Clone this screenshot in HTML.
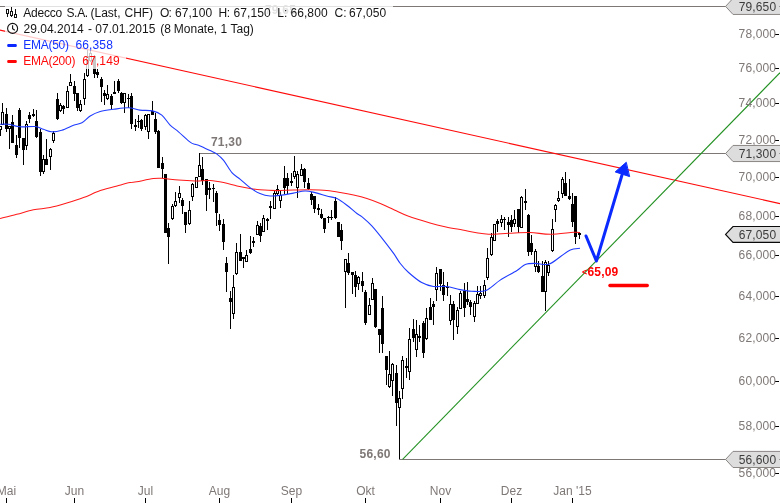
<!DOCTYPE html>
<html lang="de"><head><meta charset="utf-8"><title>Adecco S.A. Chart</title>
<style>
html,body{margin:0;padding:0;background:#fff}
body{width:780px;height:503px;position:relative;overflow:hidden;font-family:"Liberation Sans",sans-serif;font-size:12px}
svg{position:absolute;left:0;top:0;display:block}
svg text{font-family:"Liberation Sans",sans-serif;font-size:12px}
.ax{fill:#7e7876}
.bd{fill:#3c3c3c}
.lv{fill:#7d7775;font-weight:bold;letter-spacing:0.2px}
</style></head><body>
<svg width="780" height="503" viewBox="0 0 780 503">
<rect width="780" height="503" fill="#fff"/>
<g fill="#7d7775" shape-rendering="crispEdges">
<rect x="0" y="6" width="727" height="1"/>
<rect x="199" y="153" width="528" height="1"/>
<rect x="399" y="459" width="328" height="1"/>
</g>
<text class="lv" x="265" y="13.5">79,65</text>
<text class="lv" x="211" y="146.3">71,30</text>
<text class="lv" x="359.6" y="458">56,60</text>
<line x1="0" y1="30.1" x2="780" y2="203.6" stroke="#ff0a0a" stroke-width="1.1"/>
<line x1="402.6" y1="459.3" x2="780" y2="72.7" stroke="#229122" stroke-width="1.1"/>
<g shape-rendering="crispEdges">
<path fill="#000" d="M0 126h1v10h-1zM2 103h1v22h-1zM6 108h1v24h-1zM9 126h1v23h-1zM12 115h1v28h-1zM16 135h1v23h-1zM19 108h1v40h-1zM23 138h1v27h-1zM26 121h1v29h-1zM29 112h1v11h-1zM33 109h1v8h-1zM36 110h1v28h-1zM40 129h1v47h-1zM43 155h1v19h-1zM46 139h1v26h-1zM50 148h1v22h-1zM53 131h1v12h-1zM57 93h1v27h-1zM60 103h1v9h-1zM63 105h1v9h-1zM67 86h1v22h-1zM70 74h1v12h-1zM74 81h1v20h-1zM77 93h1v18h-1zM80 100h1v12h-1zM84 73h1v32h-1zM87 50h1v27h-1zM90 49h1v13h-1zM94 55h1v23h-1zM97 69h1v9h-1zM101 77h1v25h-1zM104 90h1v15h-1zM107 85h1v15h-1zM111 94h1v15h-1zM114 81h1v12h-1zM118 79h1v14h-1zM121 92h1v12h-1zM124 93h1v20h-1zM128 94h1v14h-1zM131 93h1v36h-1zM135 119h1v12h-1zM138 115h1v13h-1zM141 119h1v12h-1zM145 114h1v16h-1zM148 114h1v25h-1zM152 101h1v14h-1zM155 113h1v21h-1zM158 130h1v38h-1zM162 157h1v21h-1zM165 174h1v59h-1zM168 223h1v41h-1zM172 204h1v16h-1zM175 192h1v15h-1zM179 186h1v17h-1zM182 198h1v16h-1zM185 212h1v21h-1zM189 201h1v24h-1zM192 183h1v18h-1zM196 177h1v10h-1zM199 153h1v24h-1zM202 157h1v28h-1zM206 179h1v32h-1zM209 182h1v17h-1zM213 184h1v18h-1zM216 191h1v35h-1zM219 214h1v17h-1zM223 219h1v31h-1zM226 257h1v35h-1zM230 291h1v38h-1zM233 275h1v44h-1zM236 243h1v32h-1zM240 234h1v27h-1zM243 257h1v11h-1zM246 250h1v12h-1zM250 236h1v18h-1zM253 237h1v10h-1zM257 221h1v14h-1zM260 223h1v19h-1zM263 215h1v17h-1zM267 218h1v12h-1zM270 201h1v18h-1zM274 191h1v18h-1zM277 185h1v11h-1zM280 191h1v17h-1zM284 166h1v28h-1zM287 173h1v21h-1zM291 173h1v13h-1zM294 156h1v23h-1zM297 171h1v27h-1zM301 164h1v12h-1zM304 168h1v20h-1zM308 178h1v12h-1zM311 192h1v13h-1zM314 196h1v17h-1zM318 204h1v11h-1zM321 209h1v10h-1zM324 218h1v15h-1zM328 216h1v7h-1zM331 210h1v10h-1zM335 197h1v22h-1zM338 222h1v15h-1zM341 224h1v26h-1zM345 259h1v49h-1zM348 253h1v22h-1zM352 272h1v22h-1zM355 271h1v26h-1zM358 276h1v14h-1zM362 272h1v20h-1zM365 290h1v35h-1zM369 298h1v17h-1zM372 278h1v22h-1zM375 289h1v39h-1zM379 329h1v24h-1zM382 296h1v57h-1zM386 356h1v29h-1zM389 351h1v37h-1zM392 363h1v33h-1zM396 365h1v61h-1zM399 391h1v68h-1zM402 356h1v43h-1zM406 358h1v20h-1zM409 328h1v52h-1zM413 319h1v23h-1zM416 320h1v37h-1zM419 325h1v17h-1zM423 321h1v37h-1zM426 308h1v32h-1zM430 298h1v22h-1zM433 301h1v24h-1zM436 267h1v34h-1zM440 269h1v22h-1zM443 272h1v29h-1zM447 282h1v14h-1zM450 295h1v30h-1zM453 301h1v39h-1zM457 307h1v27h-1zM460 291h1v18h-1zM464 283h1v34h-1zM467 282h1v23h-1zM470 300h1v15h-1zM474 301h1v21h-1zM477 286h1v18h-1zM480 286h1v13h-1zM484 280h1v18h-1zM487 248h1v32h-1zM491 233h1v23h-1zM494 224h1v17h-1zM497 219h1v13h-1zM501 215h1v12h-1zM504 217h1v13h-1zM508 217h1v20h-1zM511 215h1v17h-1zM514 210h1v17h-1zM518 209h1v24h-1zM521 196h1v32h-1zM525 189h1v21h-1zM528 214h1v42h-1zM531 235h1v20h-1zM535 249h1v23h-1zM538 261h1v12h-1zM542 261h1v31h-1zM545 260h1v51h-1zM548 261h1v15h-1zM552 219h1v33h-1zM555 204h1v18h-1zM558 191h1v11h-1zM562 177h1v21h-1zM565 172h1v24h-1zM569 179h1v21h-1zM572 193h1v34h-1zM575 196h1v48h-1zM579 232h1v7h-1z"/>
<path fill="#000" d="M-1 126h3v4h-3zM1 112h3v13h-3zM5 114h3v15h-3zM8 126h3v3h-3zM11 122h3v21h-3zM15 145h3v10h-3zM18 110h3v28h-3zM22 138h3v12h-3zM25 124h3v22h-3zM28 115h3v4h-3zM32 114h3v2h-3zM35 121h3v16h-3zM39 132h3v40h-3zM42 159h3v13h-3zM45 159h3v6h-3zM49 149h3v8h-3zM52 133h3v8h-3zM56 99h3v20h-3zM59 105h3v6h-3zM62 106h3v3h-3zM66 91h3v17h-3zM69 82h3v4h-3zM73 86h3v8h-3zM76 93h3v15h-3zM79 104h3v7h-3zM83 79h3v20h-3zM86 56h3v20h-3zM89 53h3v8h-3zM93 56h3v18h-3zM96 72h3v3h-3zM100 79h3v8h-3zM103 93h3v3h-3zM106 94h3v5h-3zM110 96h3v9h-3zM113 92h3v2h-3zM117 81h3v10h-3zM120 93h3v10h-3zM123 93h3v10h-3zM127 98h3v1h-3zM130 96h3v28h-3zM134 125h3v2h-3zM137 121h3v1h-3zM140 120h3v9h-3zM144 115h3v12h-3zM147 114h3v18h-3zM151 111h3v4h-3zM154 119h3v13h-3zM157 131h3v37h-3zM161 163h3v6h-3zM164 174h3v59h-3zM167 228h3v9h-3zM171 206h3v13h-3zM174 201h3v5h-3zM178 193h3v5h-3zM181 200h3v6h-3zM184 212h3v13h-3zM188 210h3v14h-3zM191 184h3v13h-3zM195 177h3v11h-3zM198 165h3v12h-3zM201 169h3v12h-3zM205 179h3v16h-3zM208 188h3v2h-3zM212 188h3v1h-3zM215 193h3v20h-3zM218 220h3v5h-3zM222 224h3v18h-3zM225 263h3v9h-3zM229 298h3v4h-3zM232 287h3v27h-3zM235 252h3v22h-3zM239 252h3v9h-3zM242 257h3v2h-3zM245 255h3v7h-3zM249 249h3v4h-3zM252 241h3v2h-3zM256 225h3v10h-3zM259 226h3v10h-3zM262 218h3v14h-3zM266 219h3v2h-3zM269 206h3v2h-3zM273 193h3v16h-3zM276 189h3v5h-3zM279 195h3v6h-3zM283 178h3v10h-3zM286 178h3v8h-3zM290 181h3v2h-3zM293 171h3v6h-3zM296 174h3v14h-3zM300 169h3v7h-3zM303 169h3v13h-3zM307 183h3v6h-3zM310 194h3v6h-3zM313 196h3v13h-3zM317 208h3v2h-3zM320 214h3v4h-3zM323 218h3v11h-3zM327 217h3v1h-3zM330 217h3v1h-3zM334 201h3v17h-3zM337 222h3v15h-3zM340 230h3v11h-3zM344 259h3v13h-3zM347 263h3v10h-3zM351 272h3v3h-3zM354 275h3v12h-3zM357 277h3v7h-3zM361 281h3v5h-3zM364 292h3v31h-3zM368 305h3v10h-3zM371 283h3v17h-3zM374 289h3v38h-3zM378 329h3v6h-3zM381 308h3v36h-3zM385 356h3v14h-3zM388 374h3v13h-3zM391 364h3v17h-3zM395 373h3v30h-3zM398 398h3v10h-3zM401 360h3v29h-3zM405 366h3v2h-3zM408 339h3v33h-3zM412 329h3v9h-3zM415 334h3v16h-3zM418 336h3v2h-3zM422 323h3v30h-3zM425 318h3v21h-3zM429 307h3v13h-3zM432 304h3v3h-3zM435 273h3v17h-3zM439 269h3v15h-3zM442 285h3v10h-3zM446 287h3v1h-3zM449 304h3v17h-3zM452 304h3v16h-3zM456 310h3v17h-3zM459 293h3v16h-3zM463 291h3v17h-3zM466 299h3v3h-3zM469 302h3v5h-3zM473 303h3v14h-3zM476 294h3v10h-3zM479 293h3v3h-3zM483 285h3v11h-3zM486 258h3v20h-3zM490 237h3v18h-3zM493 224h3v17h-3zM496 221h3v3h-3zM500 219h3v4h-3zM503 219h3v1h-3zM507 222h3v3h-3zM510 220h3v7h-3zM513 219h3v5h-3zM517 209h3v18h-3zM520 197h3v31h-3zM524 201h3v2h-3zM527 215h3v37h-3zM530 243h3v9h-3zM534 251h3v16h-3zM537 266h3v6h-3zM541 276h3v16h-3zM544 262h3v30h-3zM547 265h3v8h-3zM551 229h3v22h-3zM554 205h3v5h-3zM557 198h3v3h-3zM561 179h3v15h-3zM564 183h3v13h-3zM568 196h3v3h-3zM571 204h3v18h-3zM574 196h3v41h-3zM578 233h3v2h-3z"/>
<path fill="#fff" d="M0 127h1v2h-1zM2 113h1v11h-1zM9 127h1v1h-1zM26 125h1v20h-1zM43 160h1v11h-1zM50 150h1v6h-1zM53 134h1v6h-1zM60 106h1v4h-1zM67 92h1v15h-1zM70 83h1v2h-1zM80 105h1v5h-1zM84 80h1v18h-1zM87 57h1v18h-1zM90 54h1v6h-1zM107 95h1v3h-1zM124 94h1v8h-1zM145 116h1v10h-1zM148 115h1v16h-1zM172 207h1v11h-1zM175 202h1v3h-1zM179 194h1v3h-1zM189 211h1v12h-1zM192 185h1v11h-1zM196 178h1v9h-1zM199 166h1v10h-1zM233 288h1v25h-1zM236 253h1v20h-1zM246 256h1v5h-1zM257 226h1v8h-1zM263 219h1v12h-1zM274 194h1v14h-1zM277 190h1v3h-1zM280 196h1v4h-1zM294 172h1v4h-1zM297 175h1v12h-1zM301 170h1v5h-1zM345 260h1v11h-1zM358 278h1v5h-1zM369 306h1v8h-1zM372 284h1v15h-1zM389 375h1v11h-1zM392 365h1v15h-1zM399 399h1v8h-1zM402 361h1v27h-1zM409 340h1v31h-1zM416 335h1v14h-1zM426 319h1v19h-1zM436 274h1v15h-1zM450 305h1v15h-1zM457 311h1v15h-1zM460 294h1v14h-1zM474 304h1v12h-1zM477 295h1v8h-1zM480 294h1v1h-1zM484 286h1v9h-1zM487 259h1v18h-1zM491 238h1v16h-1zM494 225h1v15h-1zM501 220h1v2h-1zM514 220h1v3h-1zM521 198h1v29h-1zM535 252h1v14h-1zM545 263h1v28h-1zM548 266h1v6h-1zM552 230h1v20h-1zM555 206h1v3h-1zM558 199h1v1h-1zM562 180h1v13h-1z"/>
</g>
<path d="M0 218.5C2.8 217.8 11.1 215.8 16.7 214.3C22.3 212.9 27.8 210.9 33.4 209.8C39.0 208.7 44.5 208.7 50.1 207.6C55.7 206.5 61.2 204.8 66.8 203.1C72.4 201.4 77.9 199.7 83.5 197.6C89.1 195.5 94.7 192.5 100.3 190.6C105.9 188.7 112.0 187.2 117 185.9C122.0 184.6 126.7 183.3 130 182.6C133.3 181.9 132.8 182.5 136.7 181.8C140.6 181.1 148.9 179.2 153.4 178.6C157.9 178.0 159.2 178.2 163.4 178.4C167.6 178.7 173.2 179.7 178.5 180.1C183.8 180.5 189.9 180.8 195.2 180.9C200.5 181.0 205.5 180.3 210.2 180.6C214.9 180.9 219.1 181.7 223.6 182.6C228.1 183.5 232.6 184.9 237 185.9C241.4 186.9 246.2 187.8 250 188.4C253.8 189.1 255.6 189.4 260 189.8C264.4 190.2 271.1 190.6 276.7 190.6C282.3 190.6 287.8 190.2 293.4 190.1C299.0 190.0 304.5 189.7 310.1 189.8C315.7 189.9 321.8 190.1 326.8 190.6C331.8 191.1 335.7 191.8 340.2 192.6C344.7 193.3 349.2 194.1 353.6 195.1C358.1 196.1 362.4 197.1 366.9 198.5C371.3 199.9 375.7 201.6 380.3 203.5C384.9 205.4 389.7 207.9 394.4 210C399.1 212.1 402.7 214.1 408.6 216.3C414.5 218.5 423.8 221.2 430 223C436.2 224.8 440.6 225.8 446 227C451.4 228.2 457.7 229.1 462.6 230C467.5 230.9 470.9 231.8 475.2 232.5C479.5 233.2 483.0 234.1 488.6 234.2C494.2 234.3 501.7 233.6 508.6 233.3C515.5 233.0 523.1 232.3 530 232.5C536.9 232.7 542.9 234.3 550.2 234.3C557.5 234.3 568.6 232.6 573.6 232.3C578.6 232.0 578.9 232.5 580 232.5" fill="none" stroke="#ff1a1a" stroke-width="1.05"/>
<path d="M0 124.3C1.4 124.3 5.1 123.9 8.4 124.3C11.7 124.7 15.6 126.4 20 126.8C24.4 127.2 31.2 126.1 35.1 126.5C39.0 126.9 40.6 128.4 43.4 129.3C46.2 130.2 48.7 131.7 51.8 131.8C54.9 132.0 58.2 131.3 61.8 130.2C65.4 129.1 70.2 126.5 73.5 125.2C76.8 124.0 79.1 124.2 81.9 122.7C84.7 121.2 87.2 117.9 90.2 116C93.2 114.1 96.3 112.6 100.2 111.5C104.1 110.4 108.9 109.9 113.6 109.3C118.3 108.7 124.0 107.7 128.4 107.8C132.8 107.9 136.0 109.6 140 110.1C144.0 110.6 149.0 110.1 152.6 110.9C156.2 111.7 158.9 112.7 161.8 115.1C164.7 117.5 167.3 122.3 170.1 125.1C172.9 127.9 175.2 129.0 178.5 131.8C181.8 134.6 187.4 140.0 190.2 142.1C192.9 144.2 193.3 143.7 195 144.3C196.7 144.9 197.7 144.9 200.2 145.9C202.7 146.9 207.5 149.3 210.2 150.6C212.9 151.9 214.1 152.0 216.3 153.6C218.5 155.2 221.0 157.2 223.6 160.4C226.2 163.6 229.1 169.4 231.9 172.6C234.7 175.8 237.3 176.8 240.3 179.3C243.3 181.8 246.7 185.2 250 187.6C253.3 190.0 256.7 192.1 260 193.5C263.3 194.9 266.4 195.7 270 196C273.6 196.3 277.8 195.6 281.7 195.1C285.6 194.6 289.5 193.8 293.4 193.1C297.3 192.4 301.5 191.1 305.1 191C308.7 190.9 311.5 191.8 315.1 192.6C318.7 193.4 323.2 195.0 326.8 196C330.4 197.0 333.5 197.0 336.9 198.5C340.2 200.0 343.6 202.7 346.9 205.2C350.2 207.7 354.4 211.6 356.9 213.5C359.4 215.4 359.3 214.6 361.8 216.7C364.3 218.8 368.2 222.0 371.8 225.9C375.4 229.8 379.9 235.5 383.5 240.1C387.1 244.7 390.8 249.5 393.6 253.4C396.4 257.3 397.8 260.3 400.3 263.5C402.8 266.7 405.0 269.3 408.6 272.5C412.2 275.7 417.6 280.3 421.7 282.6C425.8 284.9 429.2 285.9 433.4 286.5C437.6 287.1 442.6 286.0 446.8 286.5C451.0 287.0 454.4 288.5 458.5 289.3C462.6 290.1 467.1 291.0 471.7 291.2C476.3 291.4 481.2 292.2 486 290.4C490.8 288.5 495.0 283.4 500.2 280.1C505.4 276.8 512.8 273.1 517 270.5C521.2 267.9 522.3 265.7 525.3 264.5C528.3 263.3 531.1 263.4 535 263.4C538.9 263.3 544.4 265.3 548.6 264.2C552.8 263.1 556.7 259.1 560.3 256.7C563.9 254.3 567.0 251.4 570.3 250C573.6 248.6 578.4 248.6 580 248.3" fill="none" stroke="#1f3cff" stroke-width="1.1"/>
<g stroke="#0a2aff" fill="#0a2aff" stroke-linejoin="round" stroke-linecap="round">
<polyline points="586,236 596.4,261 622,175" fill="none" stroke-width="3"/>
<polygon points="626,162.5 615.2,171.9 629.3,176.5" stroke-width="1"/>
</g>
<line x1="609.9" y1="285.5" x2="647.3" y2="285.5" stroke="#ff0000" stroke-width="3.3" stroke-linecap="round"/>
<text x="582" y="276" fill="#ff0000" font-weight="bold" letter-spacing="0.2"><tspan font-size="9px" dy="-1">&lt;</tspan><tspan dy="1">65,09</tspan></text>
<g fill="#000" shape-rendering="crispEdges">
<rect x="775" y="34" width="4" height="1"/>
<rect x="775" y="68" width="4" height="1"/>
<rect x="775" y="103" width="4" height="1"/>
<rect x="775" y="140" width="4" height="1"/>
<rect x="775" y="177" width="4" height="1"/>
<rect x="775" y="216" width="4" height="1"/>
<rect x="775" y="255" width="4" height="1"/>
<rect x="775" y="296" width="4" height="1"/>
<rect x="775" y="338" width="4" height="1"/>
<rect x="775" y="381" width="4" height="1"/>
<rect x="775" y="426" width="4" height="1"/>
<rect x="775" y="473" width="4" height="1"/>
<rect x="6" y="498" width="1" height="5"/>
<rect x="74" y="498" width="1" height="5"/>
<rect x="145" y="498" width="1" height="5"/>
<rect x="219" y="498" width="1" height="5"/>
<rect x="291" y="498" width="1" height="5"/>
<rect x="365" y="498" width="1" height="5"/>
<rect x="440" y="498" width="1" height="5"/>
<rect x="511" y="498" width="1" height="5"/>
<rect x="572" y="498" width="1" height="5"/>
</g>
<g class="ax" text-anchor="end">
<text x="776.2" y="37.8" letter-spacing="0.15">78,000</text>
<text x="776.2" y="71.8" letter-spacing="0.15">76,000</text>
<text x="776.2" y="106.8" letter-spacing="0.15">74,000</text>
<text x="776.2" y="143.8" letter-spacing="0.15">72,000</text>
<text x="776.2" y="180.8" letter-spacing="0.15">70,000</text>
<text x="776.2" y="219.8" letter-spacing="0.15">68,000</text>
<text x="776.2" y="258.8" letter-spacing="0.15">66,000</text>
<text x="776.2" y="299.8" letter-spacing="0.15">64,000</text>
<text x="776.2" y="341.8" letter-spacing="0.15">62,000</text>
<text x="776.2" y="384.8" letter-spacing="0.15">60,000</text>
<text x="776.2" y="429.8" letter-spacing="0.15">58,000</text>
<text x="776.2" y="476.8" letter-spacing="0.15">56,000</text>
</g>
<g class="ax" text-anchor="middle">
<text x="6.5" y="495">Mai</text>
<text x="74.5" y="495">Jun</text>
<text x="145.5" y="495">Jul</text>
<text x="219.5" y="495">Aug</text>
<text x="291.5" y="495">Sep</text>
<text x="365.5" y="495">Okt</text>
<text x="440.5" y="495">Nov</text>
<text x="511.5" y="495">Dez</text>
<text x="572.5" y="495">Jan '15</text>
</g>
<path d="M725.6 6.4L733 -1.65H781V14.45H733Z" fill="#dddddd" stroke="#8a8684" stroke-width="1"/>
<text class="bd" x="776.2" y="10.8" text-anchor="end" letter-spacing="0.12">79,650</text>
<rect x="779" y="6" width="1" height="1" fill="#9a9a9a" shape-rendering="crispEdges"/>
<path d="M725.6 153.5L733 145.45H781V161.55H733Z" fill="#dddddd" stroke="#8a8684" stroke-width="1"/>
<text class="bd" x="776.2" y="157.9" text-anchor="end" letter-spacing="0.12">71,300</text>
<rect x="779" y="153" width="1" height="1" fill="#9a9a9a" shape-rendering="crispEdges"/>
<path d="M725.6 459.45L733 451.4H781V467.5H733Z" fill="#dddddd" stroke="#8a8684" stroke-width="1"/>
<text class="bd" x="776.2" y="463.85" text-anchor="end" letter-spacing="0.12">56,600</text>
<rect x="779" y="459" width="1" height="1" fill="#9a9a9a" shape-rendering="crispEdges"/>
<path d="M725.6 234.4L733 226.5H781V242.3H733Z" fill="#dddddd" stroke="#0a0a0a" stroke-width="1.15"/>
<text class="bd" x="776.2" y="238.8" text-anchor="end" letter-spacing="0.12">67,050</text>
</svg>
<svg width="780" height="503" viewBox="0 0 780 503">
<rect x="5" y="5" width="388" height="16" fill="#fff" fill-opacity="0.78"/>
<rect x="5" y="21" width="255" height="16" fill="#fff" fill-opacity="0.78"/>
<rect x="5" y="37" width="113" height="16" fill="#fff" fill-opacity="0.78"/>
<rect x="5" y="53" width="121" height="16" fill="#fff" fill-opacity="0.78"/>
<text y="16.9" fill="#151515"><tspan x="23.2" letter-spacing="-0.2">Adecco</tspan> <tspan x="66.4" letter-spacing="-0.3">S.A.</tspan> <tspan x="90.5">(Last,</tspan> <tspan x="124.6" letter-spacing="-0.1">CHF)</tspan> <tspan x="159.9" letter-spacing="-0.8">O:</tspan> <tspan x="174.9" letter-spacing="0.1">67,100</tspan> <tspan x="218.6" letter-spacing="-0.4">H:</tspan> <tspan x="233.5" letter-spacing="0.1">67,150</tspan> <tspan x="277.3">L:</tspan> <tspan x="290.4" letter-spacing="0.1">66,800</tspan> <tspan x="334.6">C:</tspan> <tspan x="349.0" letter-spacing="0.1">67,050</tspan></text>
<text y="32.9" fill="#151515"><tspan x="23.6">29.04.2014</tspan> <tspan x="88.0">-</tspan> <tspan x="95.3">07.01.2015</tspan> <tspan x="160.3">(8</tspan> <tspan x="173.8">Monate,</tspan> <tspan x="220.4">1</tspan> <tspan x="230.5">Tag)</tspan></text>
<text y="48.9" fill="#1432ff"><tspan x="23.2" letter-spacing="-0.25">EMA(50)</tspan> <tspan x="75.5" letter-spacing="0.12">66,358</tspan></text>
<text y="64.9" fill="#ff0a0a"><tspan x="23.2" letter-spacing="-0.25">EMA(200)</tspan> <tspan x="82.3" letter-spacing="0.12">67,149</tspan></text>
<g shape-rendering="crispEdges"><path fill="#111" d="M6 9h3v5h-3zM7 14h1v3h-1zM11 7h1v4h-1zM10 11h3v5h-3zM11 16h1v1h-1zM15 9h1v5h-1zM14 14h3v4h-3z"/><path fill="#fff" d="M7 10h1v3h-1zM11 12h1v3h-1zM15 15h1v2h-1z"/></g>
<g fill="none" stroke="#111" stroke-width="1.1"><circle cx="12.6" cy="28.4" r="5"/><path d="M12.6 25.3v3.3l2.2 1.6"/></g>
<rect x="7.2" y="44" width="9.6" height="3" rx="1.2" fill="#0a28ff"/>
<rect x="7.2" y="60" width="9.6" height="3" rx="1.2" fill="#ff0505"/>
</svg>
</body></html>
